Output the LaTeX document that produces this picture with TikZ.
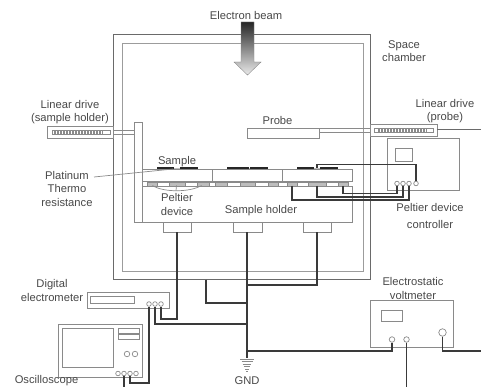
\documentclass[tikz,border=0pt]{standalone}
\usepackage{fontspec}
\setmainfont{Liberation Sans}
\definecolor{ln}{HTML}{8A8A8A}
\definecolor{ldark}{HTML}{6A6A6A}
\definecolor{wire}{HTML}{3A3A3A}
\definecolor{txt}{HTML}{484848}
\definecolor{cell}{HTML}{BDBDBD}
\tikzset{
  box/.style={draw=ln,line width=0.8pt},
  thin box/.style={draw=ln,line width=0.6pt},
  wirepath/.style={draw=wire,line width=1.25pt,line join=miter},
  lbl/.style={text=txt,font=\fontsize{11.2}{13.5}\selectfont,inner sep=0pt,align=center},
  port/.style={circle,draw=ln,fill=white,line width=0.7pt,inner sep=0pt,minimum size=4.6pt},
  bigport/.style={port,minimum size=7.5pt},
  smallport/.style={port,minimum size=5.5pt},
  peltiercell/.style={draw=ln,line width=0.4pt,fill=cell},
  plaincell/.style={draw=ln,line width=0.4pt,fill=white},
  samplebar/.style={fill=black!85,draw=none}
}
\begin{document}
\begin{tikzpicture}[x=1pt,y=-1pt]
\useasboundingbox (0,0) rectangle (481,387);
% chamber
\draw[box,draw=ldark] (113.5,34) rectangle (370.5,279.5);
\draw[box,draw=ln!85] (122.5,43) rectangle (363,271);
% beam arrow
\shade[top color=black!85,bottom color=black!8,draw=ln,line width=0.4pt]
  (241,22) -- (254,22) -- (254,62) -- (261,62) -- (247.5,75) -- (234,62) -- (241,62) -- cycle;
\node[lbl] (beam) at (246,15.5) {Electron beam};
\node[lbl] (space) at (404,51) {Space\\chamber};
% rods
\draw[thin box] (113,130.5) -- (134.5,130.5) (113,134.5) -- (134.5,134.5);
\draw[thin box] (319.5,128.5) -- (370,128.5) (319.5,132.5) -- (370,132.5);
% sample holder
\draw[box] (134.5,122) rectangle (142.5,222);
\draw[box] (142.5,222) -- (352,222) -- (352,186) -- (142.5,186);
\draw[box] (142.5,169.5) -- (352,169.5) -- (352,181) -- (142.5,181);
\draw[thin box] (212.7,169.5) -- (212.7,181) (282.3,169.5) -- (282.3,181);
\foreach \a/\b in {157/169,185/197,209/215,227/240,255/268,278/287,297/308,326/338}
  \draw[plaincell] (\a,182) rectangle (\b,186);
\foreach \a/\b in {147/157,169/185,197/209,215/227,240/255,268/278,287/297,308/326,338/348}
  \draw[peltiercell] (\a,182) rectangle (\b,186);
\foreach \a/\b in {157/174,180/198,227/249,250/268,297/314,320/338}
  \fill[samplebar] (\a,167) rectangle (\b,169.5);
\foreach \a/\b in {174/180,249/250,314/320}
  \fill[cell] (\a,168) rectangle (\b,169.5);
\draw[box] (163,222) rectangle (191,232);
\draw[box] (233,222) rectangle (262,232);
\draw[box] (303,222) rectangle (331,232);
\coordinate (footA) at (177,232);
\coordinate (footB) at (247,232);
\coordinate (footC) at (317,232);
% linear drives
\draw[box] (47.5,126.5) rectangle (113,138);
\draw[thin box] (52,130) rectangle (110,134.5);
\foreach \x in {54,55.5,...,103} \draw[ln,line width=0.35pt] (\x,130.5) -- (\x,134);
\draw[box] (370,124) rectangle (437,136);
\draw[thin box] (374,128) rectangle (433,132.5);
\foreach \x in {378,379.5,...,427} \draw[ln,line width=0.35pt] (\x,128.5) -- (\x,132);
\draw[ldark,line width=1pt] (437,130) -- (481,130);
% probe
\draw[box] (247,128) rectangle (319.5,138);
\node[lbl] (probe) at (277.5,120) {Probe};
% controller
\draw[box] (387,138) rectangle (459,190);
\draw[box] (395,148) rectangle (412,161);
\node[port] (c1) at (397,183.5) {};
\node[port] (c2) at (403,183.5) {};
\node[port] (c3) at (409,183.5) {};
\node[port] (c4) at (416,183.5) {};
\coordinate (pA) at (292,186);
\coordinate (pB) at (317,186);
\coordinate (pC) at (343,186);
\coordinate (sR) at (317,168.5);
\draw[wirepath] (c4.north) |- (sR |- 0,164.5) -- (sR);
\draw[wirepath] (pA) |- (c3.south |- 0,200) -- (c3.south);
\draw[wirepath] (pB) |- (c2.south |- 0,197) -- (c2.south);
\draw[wirepath] (pC) |- (c1.south |- 0,193.5) -- (c1.south);
% electrometer
\draw[box] (87,292) rectangle (169,308);
\draw[box] (90.5,296) rectangle (134.5,303);
\node[port] (e1) at (149,304) {};
\node[port] (e2) at (155,304) {};
\node[port] (e3) at (161,304) {};
% oscilloscope
\draw[box] (58,324) rectangle (142,377);
\draw[box] (62.5,328.5) rectangle (113.5,367);
\draw[thin box] (118,328.5) rectangle (139,333);
\draw[thin box] (118,334.5) rectangle (139,339);
\node[smallport] (k1) at (127,354) {};
\node[smallport] (k2) at (135,354) {};
\node[port] (o1) at (118,373.5) {};
\node[port] (o2) at (124,373.5) {};
\node[port] (o3) at (130,373.5) {};
\node[port] (o4) at (136,373.5) {};
\coordinate (oOut) at (124,387);
% voltmeter
\draw[box] (370,300) rectangle (453,347);
\draw[box] (381,310) rectangle (402,321);
\node[smallport] (v1) at (392,339.5) {};
\node[smallport] (v2) at (406.5,339.5) {};
\node[bigport] (v3) at (442.5,332.5) {};
\coordinate (vOut2) at (406.5,387);
\coordinate (vOut3) at (481,351);
% ground
\coordinate (gnd) at (247,358);
\coordinate (chBot) at (206,279.5);
\foreach \w/\y in {7/359,5.5/361.5,4.3/364,3.2/366.5,2/369,1/371}
  \draw[ln,line width=0.7pt] (247-\w,\y) -- (247+\w,\y);
% wires
\draw[wirepath] (footB) -- (gnd);
\draw[wirepath] (footA) |- (e3.south |- 0,319) -- (e3.south);
\draw[wirepath] (footC) |- (247,285);
\draw[wirepath] (chBot) |- (247,303);
\draw[wirepath] (e2.south) |- (247,324);
\draw[wirepath] (e1.south) |- (o3.south |- 0,383) -- (o3.south);
\draw[wirepath] (o2.south) -- (oOut);
\draw[wirepath] (v1.south) |- (247,351);
\draw[wirepath] (v2.south) -- (vOut2);
\draw[wirepath] (v3.south) |- (vOut3);
% leader lines
\coordinate (platA) at (94,177);
\coordinate (platB) at (173,169);
\draw[ln,line width=0.7pt] (platA) -- (platB);
\coordinate (pelL) at (152.5,185.5);
\coordinate (pelR) at (201.5,185.5);
\coordinate (pelM) at (176,190.5);
\draw[ln,line width=0.7pt] (pelL) .. controls (163,192.5) and (190,192.5) .. (pelR);
\draw[ln,line width=0.7pt] (pelM) -- (176.5,185.5);
% labels
\node[lbl] (ld1) at (70,112) {Linear drive\\(sample holder)};
\node[lbl] (ld2) at (445,111) {Linear drive\\(probe)};
\node[lbl] (sample) at (177,161.5) {Sample};
\node[lbl] (plat) at (67,188.5) {Platinum\\Thermo\\resistance};
\node[lbl] (pelt) at (177,204.5) {Peltier\\device};
\node[lbl] (holder) at (261,211) {Sample holder};
\node[lbl] (pc1) at (430,207) {Peltier device};
\node[lbl] (pc2) at (430,224.5) {controller};
\node[lbl] (dig) at (52,290.5) {Digital\\electrometer};
\node[lbl] (osc) at (46.5,381) {Oscilloscope};
\node[lbl] (gndt) at (247,381) {GND};
\node[lbl] (ev) at (413,288.5) {Electrostatic\\voltmeter};
\end{tikzpicture}
\end{document}
